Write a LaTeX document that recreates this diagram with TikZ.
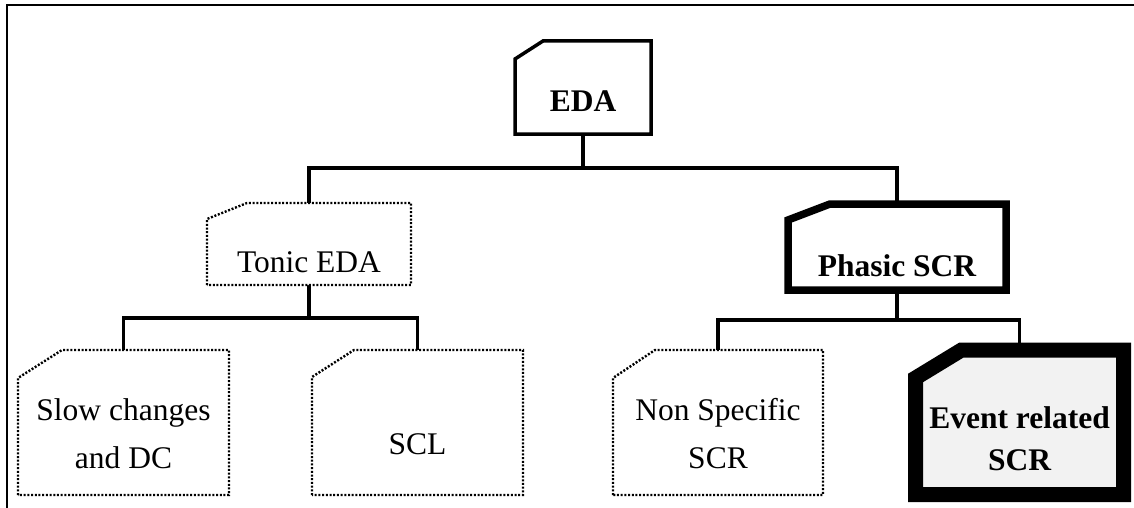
\documentclass[tikz,border=0pt]{standalone}
\usepackage{fontspec}
\setmainfont{Liberation Serif}
\usetikzlibrary{calc}

% Outline of a box whose top-left corner is cut off:
% #1 node name, #2 horizontal cut, #3 vertical cut, #4 draw options
\newcommand\chamferpath[4]{%
  \draw[#4] (#1.south west) -- ([yshift=-#3pt]#1.north west)
    -- ([xshift=#2pt]#1.north west) -- (#1.north east)
    -- (#1.south east) -- cycle;}

\begin{document}
\begin{tikzpicture}[x=1pt,y=-1pt,
  box/.style={rectangle,draw=none,inner sep=0pt,outer sep=0pt},
  dotline/.style={line width=2.4pt,dash pattern=on 2pt off 1.7pt},
  conn/.style={line width=3.5pt},
  lbl/.style={anchor=base,inner sep=0pt,font=\fontsize{31.5}{38}\selectfont},
  blbl/.style={anchor=base,inner sep=0pt,font=\fontsize{31.5}{38}\selectfont\bfseries}]

\useasboundingbox (0,0) rectangle (1134,508);

% frame
\draw[line width=2pt] (7,508) -- (7,5) -- (1134,5);

% box areas
\node[box,minimum width=136pt,minimum height=93pt]  (eda)    at (583,87.5)   {};
\node[box,minimum width=204pt,minimum height=82pt]  (tonic)  at (309,244)    {};
\node[box,minimum width=218pt,minimum height=86pt]  (phasic) at (897,247)    {};
\node[box,minimum width=211pt,minimum height=145pt] (slow)   at (123.5,422.5) {};
\node[box,minimum width=211pt,minimum height=145pt] (scl)    at (417.5,422.5) {};
\node[box,minimum width=210pt,minimum height=145pt] (nonspec) at (718,422.5)  {};
\node[box,minimum width=208pt,minimum height=144.5pt] (event) at (1019.5,422.25) {};

% connectors
\coordinate (j1) at ($(eda.south)+(0,34)$);
\coordinate (j2) at ($(tonic.south)+(0,33)$);
\coordinate (j3) at ($(phasic.south)+(0,30)$);
\draw[conn] (eda.south) -- (j1);
\draw[conn] (j1) -| (tonic.north);
\draw[conn] (j1) -| (phasic.north);
\draw[conn] (tonic.south) -- (j2);
\draw[conn] (j2) -| (slow.north);
\draw[conn] (j2) -| (scl.north);
\draw[conn] (phasic.south) -- (j3);
\draw[conn] (j3) -| (nonspec.north);
\draw[conn] (j3) -| (event.north);

% outlines
\chamferpath{eda}{28}{18}{line width=3.5pt,fill=white}
\chamferpath{tonic}{40}{16}{dotline,fill=white}
\chamferpath{phasic}{42}{16}{line width=7.5pt,fill=white}
\chamferpath{slow}{44}{28}{dotline,fill=white}
\chamferpath{scl}{42}{27}{dotline,fill=white}
\chamferpath{nonspec}{42}{28}{dotline,fill=white}
\chamferpath{event}{46}{28}{line width=15pt,fill=gray!10}

% labels
\node[blbl] (edat)    at (583,112)    {EDA};
\node[lbl]  (tonict)  at (309,272)    {Tonic EDA};
\node[blbl] (phasict) at (897,276)    {Phasic SCR};
\node[lbl]  (slowa)   at (123.5,420)  {Slow changes};
\node[lbl]  (slowb)   at (123.5,468)  {and DC};
\node[lbl]  (sclt)    at (417.5,454)  {SCL};
\node[lbl]  (nsa)     at (718,420)    {Non Specific};
\node[lbl]  (nsb)     at (718,468)    {SCR};
\node[blbl] (eva)     at (1019.5,428) {Event related};
\node[blbl] (evb)     at (1019.5,470) {SCR};
\end{tikzpicture}
\end{document}
